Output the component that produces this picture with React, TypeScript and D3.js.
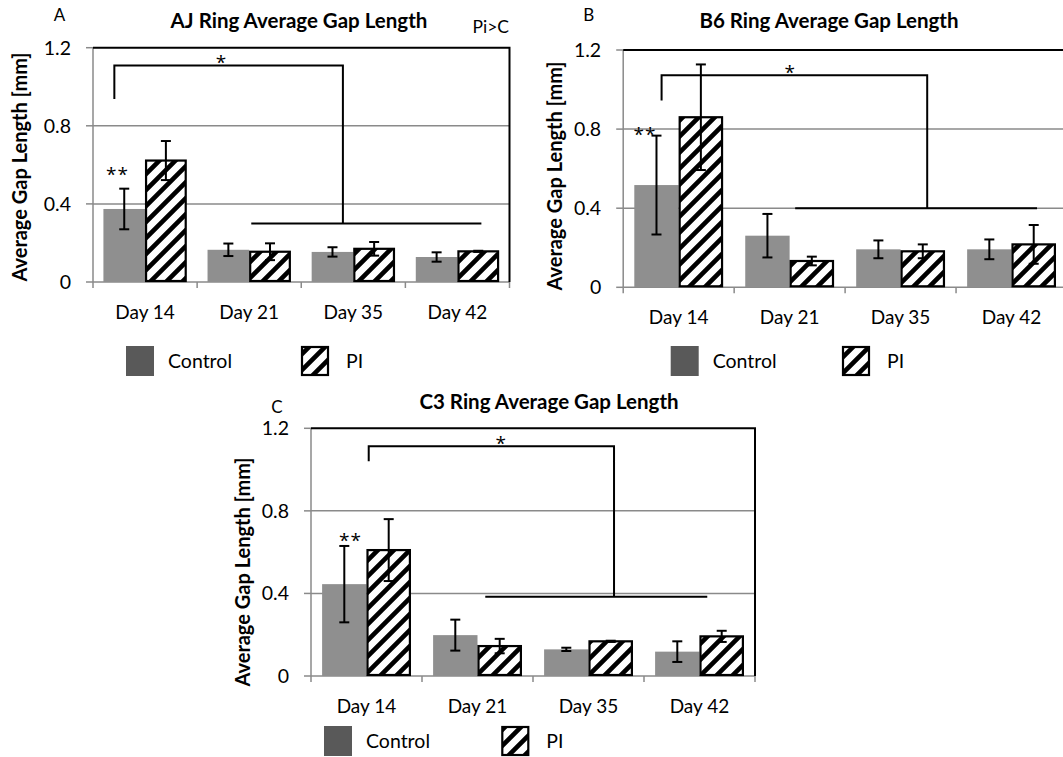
import { useEffect, useRef } from 'react';
import * as d3 from 'd3';

const days = ['Day 14', 'Day 21', 'Day 35', 'Day 42'];
const seriesNames = ['Control', 'PI'];
const yTicks = [0, 0.4, 0.8, 1.2];

// AJ ring
const ajControl = [0.374, 0.165, 0.154, 0.128];
const ajControlErr = [0.104, 0.032, 0.024, 0.024];
const ajPI = [0.622, 0.155, 0.17, 0.157];
const ajPIErr = [0.1, 0.043, 0.035, 0.003];

// B6 ring
const b6Control = [0.517, 0.261, 0.192, 0.192];
const b6ControlErr = [0.25, 0.11, 0.045, 0.05];
const b6PI = [0.86, 0.133, 0.182, 0.217];
const b6PIErr = [0.267, 0.022, 0.035, 0.098];

// C3 ring
const c3Control = [0.445, 0.198, 0.129, 0.118];
const c3ControlErr = [0.185, 0.075, 0.008, 0.05];
const c3PI = [0.61, 0.145, 0.168, 0.192];
const c3PIErr = [0.15, 0.035, 0.003, 0.027];

const FONT = "Lato, 'Open Sans', sans-serif";
const STAR_FONT = "'Open Sans', 'DejaVu Sans', sans-serif";
const BAR_GREY = '#8f8f8f';
const AXIS_GREY = '#8a8a8a';

interface Bracket {
  x1: number; // category units
  x2: number;
  top: number; // data units
  leftEnd: number;
  low: number;
  lowX1: number;
  lowX2: number;
  starX: number;
}

interface Panel {
  letter: string;
  title: string;
  control: number[];
  controlErr: number[];
  pi: number[];
  piErr: number[];
  left: number;
  right: number;
  top: number;
  bottom: number;
  titleX: number;
  titleY: number;
  letterX: number;
  letterY: number;
  yLabelX: number;
  yLabelY: number;
  legendY: number;
  legendControlX: number;
  legendPIX: number;
  bracket: Bracket;
  doubleStar: { x: number; value: number };
  note?: string;
}

const panels: Panel[] = [
  {
    letter: 'A',
    title: 'AJ Ring Average Gap Length',
    control: ajControl,
    controlErr: ajControlErr,
    pi: ajPI,
    piErr: ajPIErr,
    left: 93,
    right: 509.5,
    top: 47.7,
    bottom: 282,
    titleX: 299,
    titleY: 28,
    letterX: 59.5,
    letterY: 21,
    yLabelX: 27,
    yLabelY: 167,
    legendY: 346,
    legendControlX: 126,
    legendPIX: 301,
    bracket: { x1: 0.205, x2: 2.4, top: 1.109, leftEnd: 0.937, low: 0.3, lowX1: 1.52, lowX2: 3.73, starX: 1.23 },
    doubleStar: { x: 0.235, value: 0.566 },
    note: 'Pi>C',
  },
  {
    letter: 'B',
    title: 'B6 Ring Average Gap Length',
    control: b6Control,
    controlErr: b6ControlErr,
    pi: b6PI,
    piErr: b6PIErr,
    left: 623.2,
    right: 1067,
    top: 50,
    bottom: 287.3,
    titleX: 829,
    titleY: 28,
    letterX: 588.7,
    letterY: 21,
    yLabelX: 562,
    yLabelY: 176,
    legendY: 346,
    legendControlX: 670.7,
    legendPIX: 842,
    bracket: { x1: 0.346, x2: 2.74, top: 1.072, leftEnd: 0.944, low: 0.4, lowX1: 1.55, lowX2: 3.73, starX: 1.5 },
    doubleStar: { x: 0.196, value: 0.79 },
  },
  {
    letter: 'C',
    title: 'C3 Ring Average Gap Length',
    control: c3Control,
    controlErr: c3ControlErr,
    pi: c3PI,
    piErr: c3PIErr,
    left: 311,
    right: 755,
    top: 428.3,
    bottom: 676,
    titleX: 549,
    titleY: 409,
    letterX: 277,
    letterY: 412.5,
    yLabelX: 250,
    yLabelY: 572,
    legendY: 726,
    legendControlX: 324,
    legendPIX: 501.3,
    bracket: { x1: 0.52, x2: 2.73, top: 1.113, leftEnd: 1.04, low: 0.384, lowX1: 1.57, lowX2: 3.57, starX: 1.71 },
    doubleStar: { x: 0.356, value: 0.674 },
  },
];

const drawPanel = (svg: d3.Selection<SVGSVGElement, unknown, null, undefined>, p: Panel) => {
  const g = svg.append('g').attr('font-family', FONT);

  const x = d3
    .scaleBand()
    .domain(days)
    .range([p.left, p.right])
    .paddingInner(0.2)
    .paddingOuter(0.1);
  const xs = d3.scaleBand().domain(seriesNames).range([0, x.bandwidth()]);
  const y = d3.scaleLinear().domain([0, 1.2]).range([p.bottom, p.top]);
  // continuous category position, used for ticks and annotations
  const cx = d3.scaleLinear().domain([0, days.length]).range([p.left, p.right]);

  // gridlines
  g.selectAll('.grid')
    .data(yTicks.filter((t) => t > 0 && t < 1.2))
    .join('line')
    .attr('x1', p.left)
    .attr('x2', p.right)
    .attr('y1', (d) => y(d))
    .attr('y2', (d) => y(d))
    .attr('stroke', AXIS_GREY)
    .attr('stroke-width', 1.5);

  // y axis + ticks
  g.append('line')
    .attr('x1', p.left)
    .attr('x2', p.left)
    .attr('y1', y(1.2))
    .attr('y2', y(0))
    .attr('stroke', AXIS_GREY)
    .attr('stroke-width', 1.5);
  g.selectAll('.ytick')
    .data(yTicks)
    .join('line')
    .attr('x1', p.left - 7)
    .attr('x2', p.left)
    .attr('y1', (d) => y(d))
    .attr('y2', (d) => y(d))
    .attr('stroke', AXIS_GREY)
    .attr('stroke-width', 1.5);
  g.selectAll('.ylab')
    .data(yTicks)
    .join('text')
    .attr('x', p.left - 22)
    .attr('y', (d) => y(d))
    .attr('dy', '0.36em')
    .attr('text-anchor', 'end')
    .attr('font-size', 19.5)
    .attr('fill', '#000')
    .text((d) => (d === 0 ? '0' : d3.format('.1f')(d)));

  // x axis + category ticks
  g.append('line')
    .attr('x1', p.left)
    .attr('x2', p.right)
    .attr('y1', y(0))
    .attr('y2', y(0))
    .attr('stroke', AXIS_GREY)
    .attr('stroke-width', 1.5);
  g.selectAll('.xtick')
    .data(d3.range(days.length + 1))
    .join('line')
    .attr('x1', (d) => cx(d))
    .attr('x2', (d) => cx(d))
    .attr('y1', y(0))
    .attr('y2', y(0) + 6)
    .attr('stroke', AXIS_GREY)
    .attr('stroke-width', 1.5);
  g.selectAll('.xlab')
    .data(days)
    .join('text')
    .attr('x', (d) => (x(d) || 0) + x.bandwidth() / 2)
    .attr('y', y(0) + 37)
    .attr('text-anchor', 'middle')
    .attr('font-size', 19)
    .text((d) => d);

  // black frame on top and right
  g.append('path')
    .attr('d', `M${p.left},${y(1.2)}H${p.right}V${y(0)}`)
    .attr('fill', 'none')
    .attr('stroke', '#000')
    .attr('stroke-width', 2);

  const rows = days.flatMap((day, i) => [
    { day, s: 'Control', v: p.control[i], e: p.controlErr[i] },
    { day, s: 'PI', v: p.pi[i], e: p.piErr[i] },
  ]);
  const bx = (d: { day: string; s: string }) => (x(d.day) || 0) + (xs(d.s) || 0);

  g.selectAll('.bar')
    .data(rows)
    .join('rect')
    .attr('x', (d) => bx(d) + (d.s === 'PI' ? 1 : 0))
    .attr('width', (d) => xs.bandwidth() - (d.s === 'PI' ? 2 : 0))
    .attr('y', (d) => y(d.v))
    .attr('height', (d) => y(0) - y(d.v) - (d.s === 'PI' ? 1 : 0))
    .attr('fill', (d) => (d.s === 'PI' ? 'url(#hatch)' : BAR_GREY))
    .attr('stroke', (d) => (d.s === 'PI' ? '#000' : 'none'))
    .attr('stroke-width', 2.2);

  // error bars
  const eb = g.selectAll('.err').data(rows).join('g');
  const ecx = (d: { day: string; s: string }) => bx(d) + xs.bandwidth() / 2;
  eb.append('line')
    .attr('x1', ecx)
    .attr('x2', ecx)
    .attr('y1', (d) => y(d.v + d.e))
    .attr('y2', (d) => y(d.v - d.e))
    .attr('stroke', '#000')
    .attr('stroke-width', 2);
  [1, -1].forEach((sgn) => {
    eb.append('line')
      .attr('x1', (d) => ecx(d) - 5)
      .attr('x2', (d) => ecx(d) + 5)
      .attr('y1', (d) => y(d.v + sgn * d.e))
      .attr('y2', (d) => y(d.v + sgn * d.e))
      .attr('stroke', '#000')
      .attr('stroke-width', 2);
  });

  // significance bracket
  const b = p.bracket;
  g.append('path')
    .attr(
      'd',
      `M${cx(b.x1)},${y(b.leftEnd)}V${y(b.top)}H${cx(b.x2)}V${y(b.low)}` +
        `M${cx(b.lowX1)},${y(b.low)}H${cx(b.lowX2)}`
    )
    .attr('fill', 'none')
    .attr('stroke', '#000')
    .attr('stroke-width', 2);
  g.append('text')
    .attr('x', cx(b.starX))
    .attr('y', y(b.top) + 4)
    .attr('text-anchor', 'middle')
    .attr('font-family', STAR_FONT)
    .attr('font-size', 19)
    .attr('fill', '#000')
    .text('*');
  g.append('text')
    .attr('x', cx(p.doubleStar.x))
    .attr('y', y(p.doubleStar.value) + 10)
    .attr('text-anchor', 'middle')
    .attr('font-family', STAR_FONT)
    .attr('font-size', 19)
    .attr('letter-spacing', 1)
    .attr('fill', '#000')
    .text('**');

  // titles and labels
  g.append('text')
    .attr('x', p.titleX)
    .attr('y', p.titleY)
    .attr('text-anchor', 'middle')
    .attr('font-size', 20.5)
    .attr('font-weight', 'bold')
    .text(p.title);
  g.append('text')
    .attr('x', p.letterX)
    .attr('y', p.letterY)
    .attr('text-anchor', 'middle')
    .attr('font-size', 17)
    .text(p.letter);
  g.append('text')
    .attr('transform', `translate(${p.yLabelX},${p.yLabelY}) rotate(-90)`)
    .attr('text-anchor', 'middle')
    .attr('font-size', 20)
    .attr('font-weight', 'bold')
    .text('Average Gap Length [mm]');
  if (p.note) {
    g.append('text')
      .attr('x', p.right - 37)
      .attr('y', 33)
      .attr('font-size', 17.5)
      .text(p.note);
  }

  // legend
  const lg = g.append('g');
  lg.append('rect')
    .attr('x', p.legendControlX)
    .attr('y', p.legendY)
    .attr('width', 28)
    .attr('height', 30)
    .attr('fill', '#595959');
  lg.append('text')
    .attr('x', p.legendControlX + 42)
    .attr('y', p.legendY + 15)
    .attr('dy', '0.36em')
    .attr('font-size', 19.5)
    .text(seriesNames[0]);
  lg.append('rect')
    .attr('x', p.legendPIX + 1)
    .attr('y', p.legendY + 1)
    .attr('width', 26)
    .attr('height', 28)
    .attr('fill', 'url(#hatch)')
    .attr('stroke', '#000')
    .attr('stroke-width', 2.2);
  lg.append('text')
    .attr('x', p.legendPIX + 45)
    .attr('y', p.legendY + 15)
    .attr('dy', '0.36em')
    .attr('font-size', 19.5)
    .text(seriesNames[1]);
};

export default function App() {
  const svgRef = useRef<SVGSVGElement>(null);

  useEffect(() => {
    if (!svgRef.current) return;
    const svg = d3.select(svgRef.current);
    svg.selectAll('*').remove();

    const pat = svg
      .append('defs')
      .append('pattern')
      .attr('id', 'hatch')
      .attr('patternUnits', 'userSpaceOnUse')
      .attr('width', 16)
      .attr('height', 16);
    pat.append('rect').attr('width', 16).attr('height', 16).attr('fill', '#fff');
    pat
      .append('path')
      .attr('d', 'M-4,4L4,-4M0,16L16,0M12,20L20,12')
      .attr('stroke', '#000')
      .attr('stroke-width', 4.6);

    panels.forEach((p) => drawPanel(svg, p));
  }, []);

  return (
    <svg
      ref={svgRef}
      width={1063}
      height={757}
      style={{ position: 'absolute', left: 0, top: 0, background: '#fff' }}
    />
  );
}
